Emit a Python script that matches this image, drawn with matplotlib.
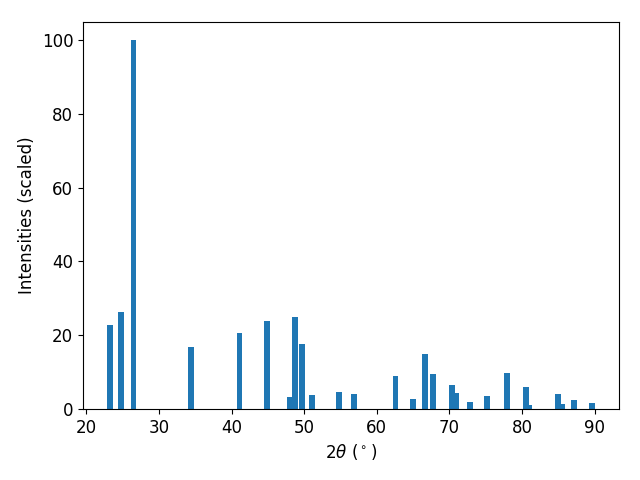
import matplotlib
matplotlib.use("Agg")
import matplotlib.pyplot as plt

two_theta = [23.3, 24.8, 26.5, 34.4, 41.1, 44.9, 48.0, 48.7, 49.75, 51.1,
             54.8, 56.9, 62.6, 65.0, 66.6, 67.7, 70.4, 71.0, 72.8, 75.2,
             77.9, 80.6, 81.0, 85.0, 85.6, 87.2, 89.6]
intensity = [22.8, 26.3, 100.0, 16.8, 20.6, 23.8, 3.3, 24.9, 17.6, 3.8,
             4.6, 4.1, 8.9, 2.7, 14.9, 9.5, 6.5, 4.3, 1.9, 3.5,
             9.8, 6.0, 1.1, 4.1, 1.4, 2.4, 1.6]

plt.rcParams['font.size'] = 12

fig, ax = plt.subplots(figsize=(6.4, 4.8), dpi=100)
ax.bar(two_theta, intensity, width=0.8, color='#1f77b4')
ax.set_xlabel(r'$2\theta$ ($^\circ$)')
ax.set_ylabel('Intensities (scaled)')
fig.subplots_adjust(left=0.1297, right=0.967, bottom=0.148, top=0.955)
fig.savefig('out.png')
